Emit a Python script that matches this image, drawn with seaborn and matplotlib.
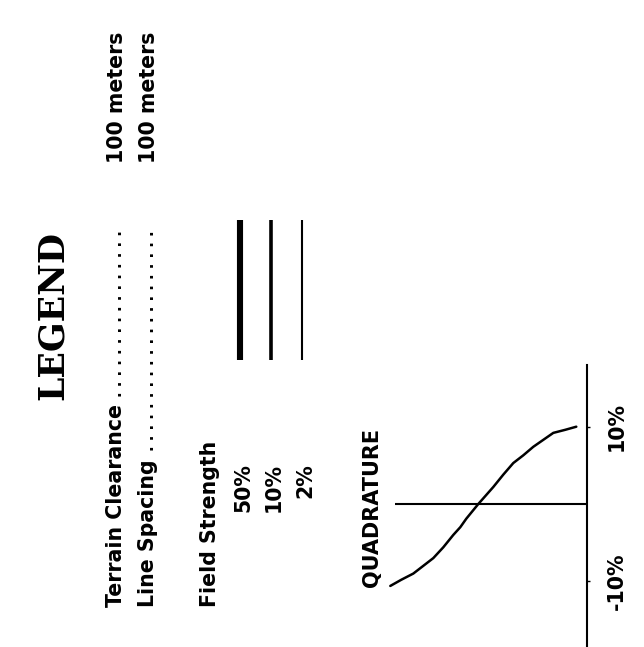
import numpy as np
import pandas as pd
import matplotlib
matplotlib.use("Agg")
import matplotlib.pyplot as plt
import seaborn as sns

# legend text (the page is printed sideways, so everything reads bottom to top)
title = "LEGEND"
spec_labels = ["Terrain Clearance", "Line Spacing"]
spec_values = ["100 meters", "100 meters"]
field_title = "Field Strength"
field_labels = ["50%", "10%", "2%"]
quad_title = "QUADRATURE"

# quadrature response curve
quad_offset = [197, 186, 174, 164, 154, 144, 134, 127, 121, 109,
               94, 84, 74, 64, 54, 44, 34, 22, 11]
quad_pct = [-10.6, -9.8, -9.0, -8.0, -7.0, -5.6, -4.0, -3.0, -1.9, 0.0,
            2.2, 3.8, 5.3, 6.3, 7.4, 8.3, 9.2, 9.6, 10.0]
quad_ticks = [-10, 10]
quad_ticklabels = ["-10%", "10%"]

# styles
field_widths = [4.4, 2.6, 1.5]
body_size = 14.8

sns.set_theme(style="white")
plt.rcParams["font.family"] = ["DejaVu Sans"]

W, H = 644, 647
fig = plt.figure(figsize=(W / 100, H / 100), dpi=100)
ax = fig.add_axes([0, 0, 1, 1])
ax.set_xlim(0, W)
ax.set_ylim(H, 0)
ax.axis("off")


def vtext(x, y, s, ha, **kw):
    ax.text(x, y, s, rotation=90, rotation_mode="anchor", ha=ha, va="baseline",
            color="black", **kw)


# title
vtext(63, 316, title, "center", fontsize=25, fontweight="bold", family="DejaVu Serif")

# spec rows with dot leaders
spec_rows = [122.5, 154.5]
leader_dots = [16, 21]
for xb, lab, val, n in zip(spec_rows, spec_labels, spec_values, leader_dots):
    vtext(xb, 607, lab, "left", fontsize=body_size, fontweight="bold")
    vtext(xb, 230, " ".join(["."] * n), "right", fontsize=10.7, fontweight="bold")
    vtext(xb + 0.5, 32, val, "right", fontsize=body_size, fontweight="bold")

# field strength block
vtext(216, 607, field_title, "left", fontsize=body_size, fontweight="bold")
field_rows = [249, 280, 311]
for xb, lab in zip(field_rows, field_labels):
    vtext(xb, 463, lab, "right", fontsize=body_size, fontweight="bold")
lc = ax.vlines([xb - 8.5 for xb in field_rows], 220, 360, colors="black",
               linewidths=field_widths)
lc.set_capstyle("butt")

# quadrature
vtext(378, 507, quad_title, "center", fontsize=15, fontweight="bold")

px_per_pct = 7.73
zero_y = 504
axis_x = 587.3
left_x = 377
top_y = 365
ax2 = fig.add_axes([left_x / W, 0, (axis_x - left_x) / W, (H - top_y) / H])
ax2.set_facecolor("none")
df = pd.DataFrame({"offset": quad_offset, "quadrature": quad_pct})
sns.lineplot(data=df, x="offset", y="quadrature", ax=ax2, color="black",
             linewidth=1.8, sort=False, estimator=None)
ax2.hlines(0, 0, 192, colors="black", linewidth=1.5)
ax2.set_xlim(axis_x - left_x, 0)
ax2.set_ylim((zero_y - H) / px_per_pct, (zero_y - top_y) / px_per_pct)
for side in ["left", "top", "bottom"]:
    ax2.spines[side].set_visible(False)
ax2.spines["right"].set_color("black")
ax2.spines["right"].set_linewidth(1.5)
ax2.set_xticks([])
ax2.yaxis.tick_right()
ax2.set_yticks(quad_ticks, quad_ticklabels, rotation=90, va="center",
               fontweight="bold")
ax2.tick_params(axis="y", direction="out", length=2, width=1, pad=12,
                labelsize=body_size, colors="black", right=True, left=False)
ax2.set_xlabel("")
ax2.set_ylabel("")

fig.savefig("out.png", dpi=100, facecolor="white")
